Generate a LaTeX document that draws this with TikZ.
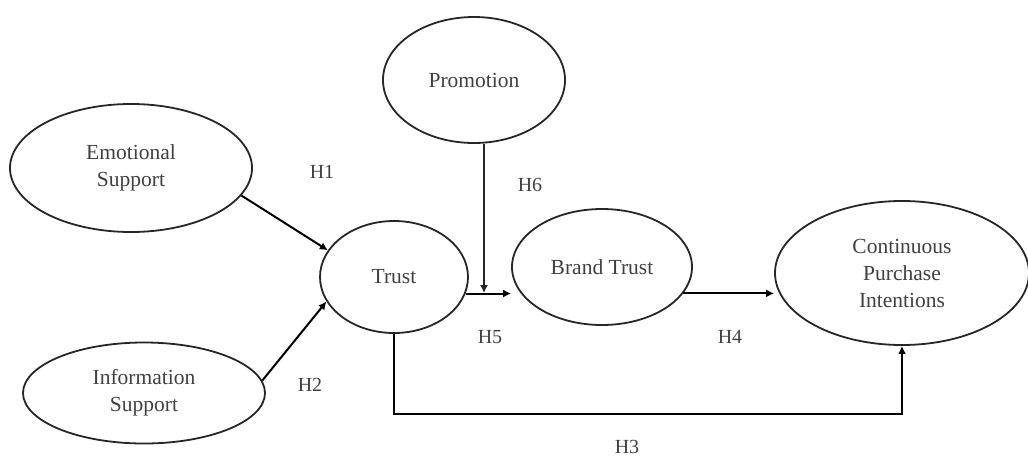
\documentclass[tikz,border=0pt]{standalone}
\usepackage{fontspec}
\setmainfont{Liberation Serif}
\usetikzlibrary{shapes.geometric,arrows.meta}
\begin{document}
\begin{tikzpicture}[x=1pt,y=-1pt,
  ell/.style={draw=black!85, line width=1.8pt, ellipse, inner sep=0pt, align=center,
    font=\fontsize{21.5}{27}\selectfont, text=black!75},
  arr/.style={draw=black, line width=2pt, -{Latex[length=8pt,width=8pt]}},
  thinarr/.style={draw=black!85, line width=1.3pt, -{Latex[length=8pt,width=8pt]}},
  hlab/.style={font=\fontsize{20}{22}\selectfont, text=black!75, inner sep=0pt}]
\useasboundingbox (0,0) rectangle (1028,466);
\node[ell, minimum width=242pt, minimum height=128pt] (es) at (131,168) {Emotional\\Support};
\node[ell, minimum width=242pt, minimum height=101pt] (is) at (144,393) {Information\\Support};
\node[ell, minimum width=148pt, minimum height=112pt] (trust) at (394,277) {Trust};
\node[ell, minimum width=182pt, minimum height=126pt] (promo) at (474,80) {Promotion};
\node[ell, minimum width=180pt, minimum height=116pt] (bt) at (602,267) {Brand Trust};
\node[ell, minimum width=254pt, minimum height=144pt] (cpi) at (902,273) {Continuous\\Purchase\\Intentions};
\coordinate (j) at (484,293);
\draw[arr] (es.-14) -- (trust.158);
\draw[arr] (is.6) -- (trust.200);
\draw[arr] (trust.-13) -- (trust.-13 -| bt.west);
\draw[thinarr] (promo.south -| j) -- (j);
\draw[arr] (bt.-18) -- (bt.-18 -| cpi.west);
\draw[arr] (trust.south) -- ++(0,80) -| (cpi.south);
\node[hlab] (h1) at (322,172) {H1};
\node[hlab] (h2) at (310,385) {H2};
\node[hlab] (h3) at (627,447) {H3};
\node[hlab] (h4) at (730,337) {H4};
\node[hlab] (h5) at (490,337) {H5};
\node[hlab] (h6) at (530,185) {H6};
\end{tikzpicture}
\end{document}
